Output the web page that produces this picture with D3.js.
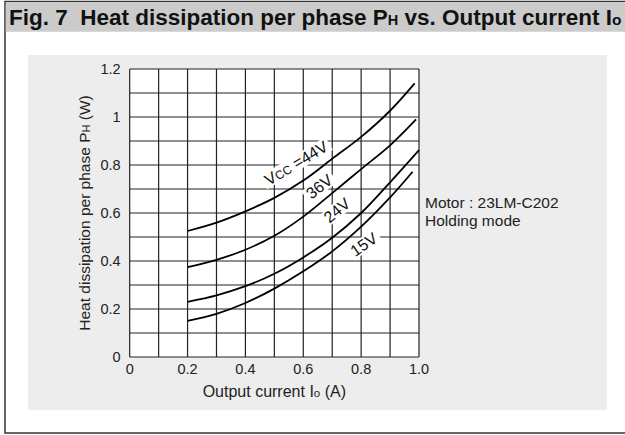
<!DOCTYPE html>
<html>
<head>
<meta charset="utf-8">
<script src="https://cdn.jsdelivr.net/npm/d3@7"></script>
<style>
  body { margin: 0; background: #fff; }
  svg { display: block; font-family: "Liberation Sans", Arial, sans-serif; }
</style>
</head>
<body>
<div id="chart"></div>
<script>
// output current (A) sample points, per supply voltage
const current44 = [0.2, 0.3, 0.4, 0.5, 0.6, 0.7, 0.8, 0.9, 0.985];
const heat44    = [0.525, 0.56, 0.607, 0.663, 0.735, 0.826, 0.917, 1.026, 1.14];
const current36 = [0.2, 0.3, 0.4, 0.5, 0.6, 0.7, 0.8, 0.9, 0.99];
const heat36    = [0.374, 0.405, 0.447, 0.505, 0.585, 0.683, 0.783, 0.882, 0.99];
const current24 = [0.2, 0.3, 0.4, 0.5, 0.6, 0.7, 0.8, 0.9, 1.0];
const heat24    = [0.23, 0.257, 0.295, 0.347, 0.415, 0.497, 0.60, 0.728, 0.862];
const current15 = [0.2, 0.3, 0.4, 0.5, 0.6, 0.7, 0.8, 0.9, 0.978];
const heat15    = [0.151, 0.18, 0.225, 0.285, 0.357, 0.44, 0.543, 0.665, 0.772];

const xTicks = [0, 0.2, 0.4, 0.6, 0.8, 1.0];
const xTickLabels = ["0", "0.2", "0.4", "0.6", "0.8", "1.0"];
const yTicks = [0, 0.2, 0.4, 0.6, 0.8, 1.0, 1.2];
const yTickLabels = ["0", "0.2", "0.4", "0.6", "0.8", "1", "1.2"];

// curve labels, anchored in data units
const curveLabels = [
  {main: "V", sub: "CC", rest: " =44V", x: 0.575, y: 0.808, angle: -31},
  {main: "36V", sub: "", rest: "", x: 0.655, y: 0.71, angle: -38},
  {main: "24V", sub: "", rest: "", x: 0.716, y: 0.611, angle: -40},
  {main: "15V", sub: "", rest: "", x: 0.809, y: 0.469, angle: -35}
];

const series = [
  {xs: current44, ys: heat44},
  {xs: current36, ys: heat36},
  {xs: current24, ys: heat24},
  {xs: current15, ys: heat15}
];

const width = 625, height = 435;
const margin = {left: 129.7, right: 206, top: 69, bottom: 78};

const svg = d3.select("#chart").append("svg")
  .attr("width", width)
  .attr("height", height);

// outer frame + title bar
svg.append("rect").attr("x", 5).attr("y", 1.5).attr("width", 640).attr("height", 431.5)
  .attr("fill", "#fff").attr("stroke", "#333").attr("stroke-width", 1.5);
svg.append("rect").attr("x", 5.75).attr("y", 2.25).attr("width", 630).attr("height", 29.5)
  .attr("fill", "#cbcbcb");

const title = svg.append("text")
  .attr("x", 9).attr("y", 25)
  .style("white-space", "pre")
  .attr("font-size", 22.5).attr("font-weight", "bold").attr("fill", "#111");
title.append("tspan").text("Fig. 7  Heat dissipation per phase P");
title.append("tspan").attr("font-size", 14.5).text("H");
title.append("tspan").text(" vs. Output current I");
title.append("tspan").attr("font-size", 15.5).text("o");

// light panel
svg.append("rect").attr("x", 28).attr("y", 55).attr("width", 579).attr("height", 355)
  .attr("fill", "#ededed");

const x = d3.scaleLinear().domain([0, 1]).range([margin.left, width - margin.right]);
const y = d3.scaleLinear().domain([0, 1.2]).range([height - margin.bottom, margin.top]);

svg.append("rect")
  .attr("x", x(0)).attr("y", y(1.2))
  .attr("width", x(1) - x(0)).attr("height", y(0) - y(1.2))
  .attr("fill", "#fff");

const grid = svg.append("g").attr("stroke", "#222").attr("stroke-width", 1.2);
grid.selectAll("line.v")
  .data(d3.range(0, 11).map(i => i / 10))
  .join("line").attr("class", "v")
  .attr("x1", d => x(d)).attr("x2", d => x(d))
  .attr("y1", y(0)).attr("y2", y(1.2));
grid.selectAll("line.h")
  .data(d3.range(0, 13).map(i => i / 10))
  .join("line").attr("class", "h")
  .attr("y1", d => y(d)).attr("y2", d => y(d))
  .attr("x1", x(0)).attr("x2", x(1));

// tick labels
svg.append("g")
  .selectAll("text")
  .data(xTicks)
  .join("text")
  .attr("x", d => x(d)).attr("y", y(0) + 16.5)
  .attr("text-anchor", "middle")
  .attr("font-size", 14.5).attr("fill", "#222")
  .text((d, i) => xTickLabels[i]);

svg.append("g")
  .selectAll("text")
  .data(yTicks)
  .join("text")
  .attr("x", x(0) - 9).attr("y", d => y(d))
  .attr("dy", "0.35em")
  .attr("text-anchor", "end")
  .attr("font-size", 14.5).attr("fill", "#222")
  .text((d, i) => yTickLabels[i]);

// axis titles
const xTitle = svg.append("text")
  .attr("x", (x(0) + x(1)) / 2).attr("y", 397)
  .attr("text-anchor", "middle").attr("font-size", 16).attr("fill", "#222");
xTitle.append("tspan").text("Output current I");
xTitle.append("tspan").attr("font-size", 11.5).text("o");
xTitle.append("tspan").text(" (A)");

const yTitle = svg.append("text")
  .attr("transform", `translate(90,${(y(0) + y(1.2)) / 2}) rotate(-90)`)
  .attr("text-anchor", "middle").attr("font-size", 15.5).attr("fill", "#222");
yTitle.append("tspan").text("Heat dissipation per phase P");
yTitle.append("tspan").attr("font-size", 11).text("H");
yTitle.append("tspan").text(" (W)");

// label boxes mask the grid, curves go over them
const labelBoxes = svg.append("g");
const curvesG = svg.append("g");

const line = d3.line()
  .x(d => x(d[0]))
  .y(d => y(d[1]))
  .curve(d3.curveCatmullRom.alpha(0.5));

curvesG.selectAll("path")
  .data(series)
  .join("path")
  .attr("d", s => line(s.xs.map((v, i) => [v, s.ys[i]])))
  .attr("fill", "none")
  .attr("stroke", "#000")
  .attr("stroke-width", 1.8);

const labelG = svg.append("g")
  .selectAll("g")
  .data(curveLabels)
  .join("g")
  .attr("transform", d => `translate(${x(d.x)},${y(d.y)}) rotate(${d.angle})`);

const labelTexts = labelG.append("text")
  .attr("text-anchor", "middle")
  .attr("dy", "0.35em")
  .style("white-space", "pre")
  .attr("font-size", 16).attr("fill", "#111");
labelTexts.append("tspan").text(d => d.main);
labelTexts.append("tspan").attr("font-size", 12).text(d => d.sub);
labelTexts.append("tspan").text(d => d.rest);

labelG.each(function (d) {
  const bb = d3.select(this).select("text").node().getBBox();
  labelBoxes.append("rect")
    .attr("transform", `translate(${x(d.x)},${y(d.y)}) rotate(${d.angle})`)
    .attr("x", bb.x - 3).attr("y", bb.y + 1)
    .attr("width", bb.width + 6).attr("height", bb.height - 2)
    .attr("fill", "#fff");
});

// annotation
svg.append("text")
  .attr("x", 425).attr("y", 208)
  .attr("font-size", 15.5).attr("fill", "#222")
  .text("Motor : 23LM-C202");
svg.append("text")
  .attr("x", 425).attr("y", 226)
  .attr("font-size", 15.5).attr("fill", "#222")
  .text("Holding mode");
</script>
</body>
</html>
